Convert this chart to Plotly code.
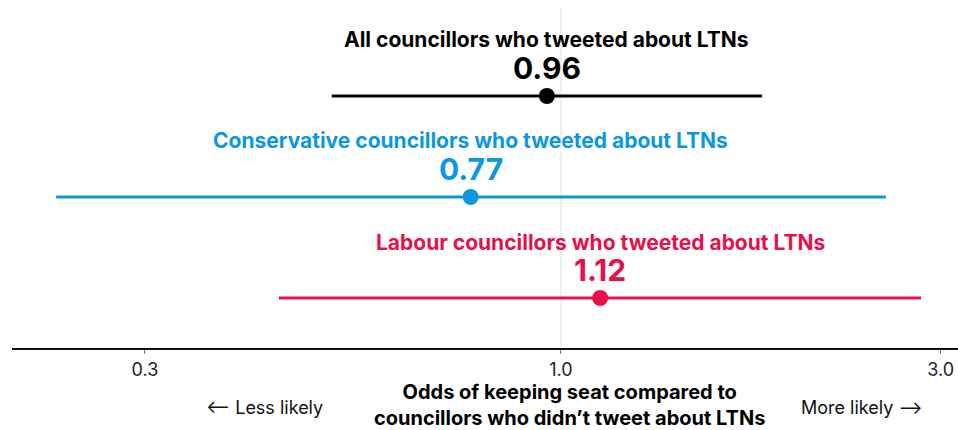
import math
import plotly.graph_objects as go

labels = ["All councillors who tweeted about LTNs",
          "Conservative councillors who tweeted about LTNs",
          "Labour councillors who tweeted about LTNs"]
estimates = [0.96, 0.77, 1.12]
ci_low = [0.515, 0.232, 0.442]
ci_high = [1.79, 2.56, 2.835]
colors = ["#000000", "#0c97e2", "#e8104b"]
rows = [3, 2, 1]
tick_vals = [0.3, 1.0, 3.0]
tick_text = ["0.3", "1.0", "3.0"]
reference_value = 1.0

FONT = "Inter"

fig = go.Figure()

for lab, est, lo, hi, col, r in zip(labels, estimates, ci_low, ci_high, colors, rows):
    fig.add_trace(go.Scatter(x=[lo, hi], y=[r, r], mode="lines",
                             line=dict(color=col, width=3), hoverinfo="skip", showlegend=False))
    fig.add_trace(go.Scatter(x=[est], y=[r], mode="markers",
                             marker=dict(color=col, size=16), showlegend=False))
    fig.add_annotation(x=math.log10(est), y=r, yshift=56, text=f"<b>{lab}</b>",
                       showarrow=False, font=dict(family=FONT, size=21, color=col),
                       xanchor="center", yanchor="middle")
    fig.add_annotation(x=math.log10(est), y=r, yshift=28, text=f"<b>{est:.2f}</b>",
                       showarrow=False, font=dict(family=FONT, size=30, color=col),
                       xanchor="center", yanchor="middle")

fig.add_shape(type="line", xref="x", yref="paper", x0=reference_value, x1=reference_value,
              y0=0, y1=1, line=dict(color="#ececec", width=1.5), layer="below")

fig.add_annotation(xref="paper", yref="paper", x=0.589, y=0, yshift=-57,
                   text="<b>Odds of keeping seat compared to<br>councillors who didn\u2019t tweet about LTNs</b>",
                   showarrow=False, font=dict(family=FONT, size=20, color="#000"),
                   xanchor="center", yanchor="middle", align="center")
fig.add_annotation(xref="paper", yref="paper", x=0.267, y=0, yshift=-59,
                   text="\u27f5 Less likely", showarrow=False,
                   font=dict(family=FONT, size=18, color="#111"), xanchor="center", yanchor="middle")
fig.add_annotation(xref="paper", yref="paper", x=0.898, y=0, yshift=-59,
                   text="More likely \u27f6", showarrow=False,
                   font=dict(family=FONT, size=18, color="#111"), xanchor="center", yanchor="middle")

fig.update_xaxes(type="log", range=[-0.690, 0.499], tickvals=tick_vals, ticktext=tick_text,
                 showgrid=False, zeroline=False, showline=True, linecolor="#111", linewidth=2,
                 ticks="outside", ticklen=4, tickcolor="#777", tickwidth=1,
                 tickfont=dict(family=FONT, size=18, color="#222"))
fig.update_yaxes(range=[0.505, 3.871], showgrid=False, zeroline=False, showticklabels=False,
                 showline=False)

fig.update_layout(width=958, height=430, margin=dict(l=12, r=0, t=8, b=82),
                  plot_bgcolor="white", paper_bgcolor="white", showlegend=False)

fig.write_html("out.html", config={"displayModeBar": False},
               post_script="document.body.style.margin='0';document.body.style.overflow='hidden';")
